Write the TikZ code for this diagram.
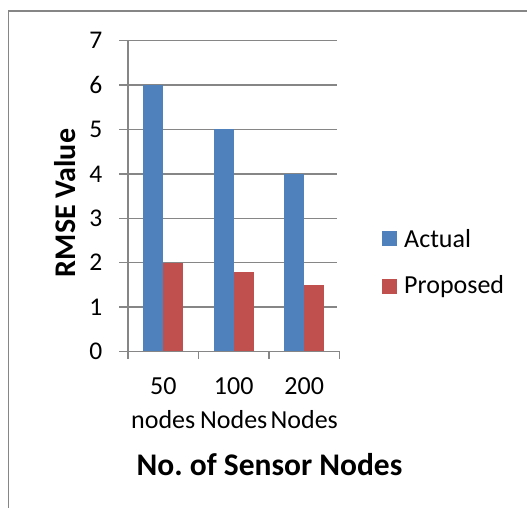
\documentclass[tikz,border=0pt]{standalone}
\usepackage{fontspec}
\setmainfont{Carlito}
\frenchspacing
\definecolor{barblue}{HTML}{4F81BD}
\definecolor{barred}{HTML}{C0504D}
\definecolor{gridgray}{HTML}{868686}
\begin{document}
\begin{tikzpicture}[x=1pt,y=-1pt,
  grid/.style={draw=gridgray,line width=1.3pt},
  ticklbl/.style={font=\fontsize{25.5}{28}\selectfont,inner sep=0pt},
  cat/.style={font=\fontsize{26}{34}\selectfont,inner sep=0pt,align=center},
  axtitle/.style={font=\bfseries\fontsize{31.5}{34}\selectfont,inner sep=0pt},
  ytitle/.style={font=\bfseries\fontsize{30}{34}\selectfont,inner sep=0pt},
  leg/.style={font=\fontsize{26}{28}\selectfont,inner sep=0pt,anchor=west}]
\useasboundingbox (0,0) rectangle (527,508);
% frame
\draw[draw=gridgray,line width=1.5pt] (8.5,508) -- (8.5,11) -- (527,11);
% gridlines
\foreach \k in {1,...,7}{
  \draw[grid] (119,{351.5-44.4*\k}) -- (337,{351.5-44.4*\k});
}
\foreach \k in {0,...,7}{
  \node[ticklbl,anchor=east] (t\k) at (102.5,{351.5-44.4*\k}) {\k};
}
% bars
\def\bw{20}
\foreach \c/\a/\p in {163.25/6/2, 233.75/5/1.8, 304.25/4/1.5}{
  \fill[barblue] ({\c-\bw},351.5) rectangle (\c,{351.5-44.4*\a});
  \fill[barred] (\c,351.5) rectangle ({\c+\bw},{351.5-44.4*\p});
}
% axes
\draw[grid] (128,40.7) -- (128,351.5);
\draw[grid] (119,351.5) -- (339.5,351.5);
\foreach \x in {128,198.5,269,339.5}{
  \draw[grid] (\x,351.5) -- (\x,359);
}
% category labels
\node[cat] (c1) at (163.25,403) {50\\nodes};
\node[cat] (c2) at (233.75,403) {100\\Nodes};
\node[cat] (c3) at (304.25,403) {200\\Nodes};
% axis titles
\node[axtitle] (xt) at (269.5,465) {No. of Sensor Nodes};
\node[ytitle,rotate=90] (yt) at (65,203) {RMSE Value};
% legend
\fill[barblue] (381.7,231) rectangle (396.7,246);
\fill[barred] (381.7,279) rectangle (396.7,294);
\node[leg] (la) at (404,238.5) {Actual};
\node[leg] (lp) at (404,286.5) {Proposed};
\end{tikzpicture}
\end{document}
